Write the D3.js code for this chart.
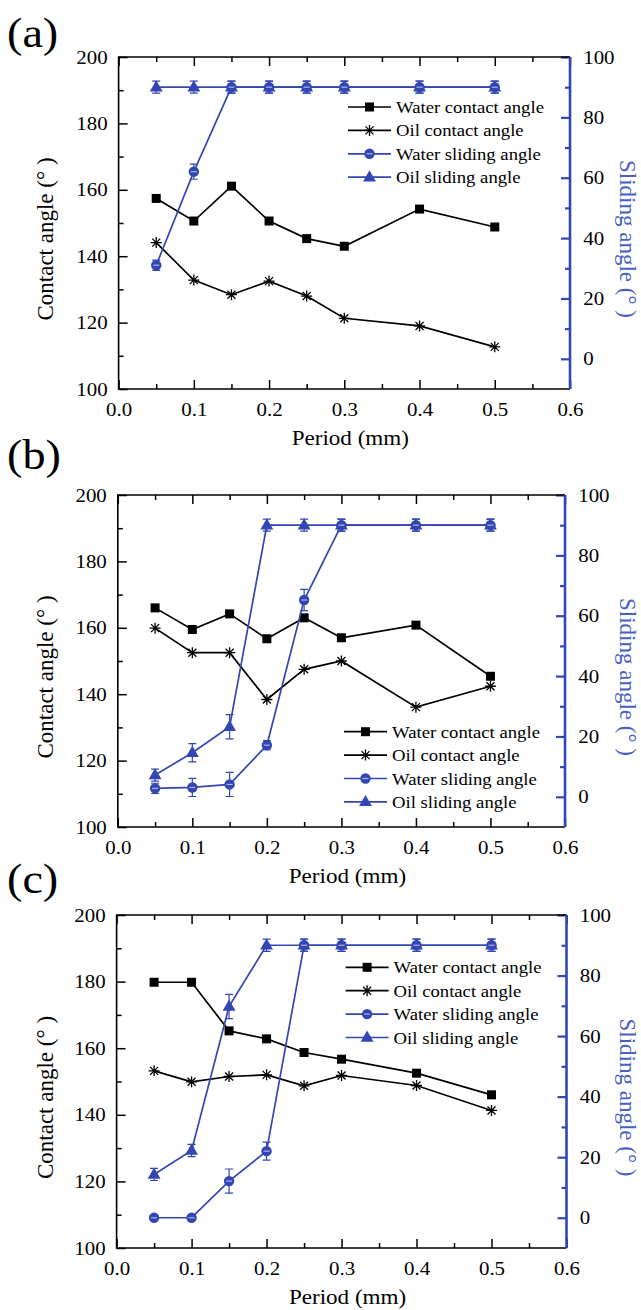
<!DOCTYPE html>
<html>
<head>
<meta charset="utf-8">
<script src="https://cdn.jsdelivr.net/npm/d3@7"></script>
<style>
body { margin: 0; background: #fff; }
</style>
</head>
<body>
<svg id="fig" width="641" height="1310"></svg>
<script>
// x values shared by all three panels
var periods = [0.05, 0.1, 0.15, 0.2, 0.25, 0.3, 0.4, 0.5];

// panel (a)
var waterCA_a = [157.4, 150.6, 161.1, 150.6, 145.3, 143.0, 154.2, 148.8];
var oilCA_a   = [144.1, 132.8, 128.4, 132.5, 128.0, 121.3, 119.0, 112.7];
var waterSA_a = [31, 62, 90, 90, 90, 90, 90, 90];
var oilSA_a   = [90, 90, 90, 90, 90, 90, 90, 90];
var waterErr_a = [1.7, 2.5, 2, 2, 2, 2, 2, 2];
var oilErr_a   = [2, 2, 2, 2, 2, 2, 2, 2];

// panel (b)
var waterCA_b = [166.0, 159.5, 164.2, 156.7, 163.0, 157.0, 160.8, 145.4];
var oilCA_b   = [159.9, 152.5, 152.5, 138.4, 147.5, 150.0, 136.1, 142.4];
var waterSA_b = [2.8, 3.1, 4.1, 17.1, 65.2, 90, 90, 90];
var oilSA_b   = [7.2, 14.6, 23.2, 90, 90, 90, 90, 90];
var waterErr_b = [1.7, 3, 4, 1.5, 3.5, 2, 2, 2];
var oilErr_b   = [2, 3, 4, 2, 2, 2, 2, 2];

// panel (c)
var waterCA_c = [179.8, 179.8, 165.2, 162.8, 158.7, 156.7, 152.5, 146.0];
var oilCA_c   = [153.2, 149.9, 151.5, 152.0, 148.7, 151.8, 148.8, 141.3];
var waterSA_c = [0, 0, 12.1, 22, 90, 90, 90, 90];
var oilSA_c   = [14.3, 22.2, 69.8, 90, 90, 90, 90, 90];
var waterErr_c = [0.5, 0.5, 4, 3, 2, 2, 2, 2];
var oilErr_c   = [2, 2, 4, 2, 2, 2, 2, 2];

// ticks and texts
var xMajor = [0, 0.1, 0.2, 0.3, 0.4, 0.5, 0.6];
var xMinor = [0.05, 0.15, 0.25, 0.35, 0.45, 0.55];
var leftMajor = [100, 120, 140, 160, 180, 200];
var leftMinor = [110, 130, 150, 170, 190];
var rightMajor = [0, 20, 40, 60, 80, 100];
var rightMinor = [10, 30, 50, 70, 90];
var legendLabels = ["Water contact angle", "Oil contact angle", "Water sliding angle", "Oil sliding angle"];
var panelLabels = ["(a)", "(b)", "(c)"];

var BLUE = "#3446b2", BLUE_TXT = "#4b5fc2";
var SX = 1.1;   // picture is a bit stretched sideways
var SERIF = "'Liberation Serif', 'Times New Roman', serif";

// layout of each panel (pixels)
var boxes = [
  {L: 118.6, R: 570, T: 57, B: 389, labY: 47, legX: 348, legY: 107},
  {L: 117.8, R: 565, T: 495, B: 827, labY: 469, legX: 344, legY: 731.7},
  {L: 116.6, R: 566.5, T: 915, B: 1248, labY: 893, legX: 345.6, legY: 967.3}
];

var panels = [
  {label: panelLabels[0], wca: waterCA_a, oca: oilCA_a, wsa: waterSA_a, osa: oilSA_a, we: waterErr_a, oe: oilErr_a},
  {label: panelLabels[1], wca: waterCA_b, oca: oilCA_b, wsa: waterSA_b, osa: oilSA_b, we: waterErr_b, oe: oilErr_b},
  {label: panelLabels[2], wca: waterCA_c, oca: oilCA_c, wsa: waterSA_c, osa: oilSA_c, we: waterErr_c, oe: oilErr_c}
];

var svg = d3.select("#fig");

function stext(g, x, y, str, size) {
  return g.append("text")
    .attr("transform", "translate(" + x + "," + y + ") scale(" + SX + ",1)")
    .style("font-family", SERIF)
    .attr("font-size", size)
    .text(str);
}

function marker(g, type, x, y) {
  if (type == "square") {
    g.append("rect").attr("x", x - 4.5).attr("y", y - 4.5)
      .attr("width", 9).attr("height", 9).attr("fill", "#000");
  } else if (type == "star") {
    g.append("path")
      .attr("d", "M" + (x - 5.5) + "," + y + "h11M" + x + "," + (y - 5.5) + "v11" +
                 "M" + (x - 4) + "," + (y - 4) + "l8,8M" + (x - 4) + "," + (y + 4) + "l8,-8")
      .attr("stroke", "#000").attr("stroke-width", 1.3).attr("fill", "none");
  } else if (type == "circle") {
    g.append("circle").attr("cx", x).attr("cy", y).attr("r", 5.2).attr("fill", BLUE);
    g.append("line").attr("x1", x - 3).attr("x2", x + 3).attr("y1", y).attr("y2", y)
      .attr("stroke", "#aab3e6").attr("stroke-width", 1.2);
  } else {
    g.append("path")
      .attr("transform", "translate(" + x + "," + (y + 0.5) + ")")
      .attr("d", d3.symbol().type(d3.symbolTriangle).size(72)())
      .attr("fill", BLUE);
  }
}

function series(g, x, y, vals, color, type, errs) {
  var pts = periods.map(function(p, i) { return [x(p), y(vals[i])]; });
  g.append("path")
    .attr("d", d3.line()(pts))
    .attr("fill", "none").attr("stroke", color).attr("stroke-width", 1.7);
  if (errs) {
    periods.forEach(function(p, i) {
      var cx = x(p), y1 = y(vals[i] - errs[i]), y2 = y(vals[i] + errs[i]);
      g.append("path")
        .attr("d", "M" + cx + "," + y1 + "V" + y2 + "M" + (cx - 4) + "," + y1 + "h8M" + (cx - 4) + "," + y2 + "h8")
        .attr("stroke", color).attr("stroke-width", 1.2).attr("fill", "none");
    });
  }
  pts.forEach(function(d) { marker(g, type, d[0], d[1]); });
}

panels.forEach(function(p, k) {
  var b = boxes[k];
  var g = svg.append("g");

  var x = d3.scaleLinear().domain([0, 0.6]).range([b.L, b.R]);
  var yl = d3.scaleLinear().domain([100, 200]).range([b.B, b.T]);
  var yr = d3.scaleLinear().domain([-10, 100]).range([b.B, b.T]);

  // axes, ticks pointing inward
  var ax = [
    [d3.axisBottom(x).tickValues(xMajor).tickSize(-9).tickPadding(14).tickFormat(d3.format(".1f")), 0, b.B],
    [d3.axisBottom(x).tickValues(xMinor).tickSize(-5).tickFormat(""), 0, b.B],
    [d3.axisTop(x).tickValues(xMajor).tickSize(-9).tickFormat(""), 0, b.T],
    [d3.axisTop(x).tickValues(xMinor).tickSize(-5).tickFormat(""), 0, b.T],
    [d3.axisLeft(yl).tickValues(leftMajor).tickSize(-9).tickPadding(10), b.L, 0],
    [d3.axisLeft(yl).tickValues(leftMinor).tickSize(-5).tickFormat(""), b.L, 0],
    [d3.axisRight(yr).tickValues(rightMajor).tickSize(-9).tickPadding(12), b.R, 0, true],
    [d3.axisRight(yr).tickValues(rightMinor).tickSize(-5).tickFormat(""), b.R, 0, true]
  ];
  ax.forEach(function(a) {
    var ag = g.append("g")
      .attr("transform", "translate(" + a[1] + "," + a[2] + ")")
      .call(a[0]);
    ag.select(".domain").remove();
    ag.selectAll(".tick line")
      .attr("stroke", a[3] ? BLUE : "#000")
      .attr("stroke-width", a[3] ? 2.2 : 1.5);
    ag.selectAll(".tick text")
      .style("font-family", SERIF)
      .style("font-size", "19px").attr("fill", "#000")
      .attr("transform", "scale(" + SX + ",1)");
  });

  // frame
  g.append("path")
    .attr("d", "M" + b.R + "," + b.T + "H" + b.L + "V" + b.B + "H" + b.R)
    .attr("fill", "none").attr("stroke", "#000").attr("stroke-width", 1.6);
  g.append("line")
    .attr("x1", b.R).attr("x2", b.R).attr("y1", b.T).attr("y2", b.B)
    .attr("stroke", BLUE).attr("stroke-width", 2.6);

  // data
  series(g, x, yl, p.wca, "#000", "square");
  series(g, x, yl, p.oca, "#000", "star");
  series(g, x, yr, p.osa, BLUE, "triangle", p.oe);
  series(g, x, yr, p.wsa, BLUE, "circle", p.we);

  // legend
  var types = ["square", "star", "circle", "triangle"];
  var colors = ["#000", "#000", BLUE, BLUE];
  legendLabels.forEach(function(lab, i) {
    var ly = b.legY + i * 23.4;
    g.append("line")
      .attr("x1", b.legX).attr("x2", b.legX + 43).attr("y1", ly).attr("y2", ly)
      .attr("stroke", colors[i]).attr("stroke-width", 1.7);
    marker(g, types[i], b.legX + 21.5, ly);
    stext(g, b.legX + 48, ly + 6, lab, 17);
  });

  // titles
  var midY = (b.T + b.B) / 2 + 16;
  stext(g, (b.L + b.R) / 2 + 6, b.B + 56, "Period (mm)", 21).attr("text-anchor", "middle");
  g.append("text")
    .attr("transform", "translate(45," + midY + ") rotate(-90)")
    .attr("text-anchor", "middle").attr("dominant-baseline", "central")
    .style("font-family", SERIF).attr("font-size", 23)
    .text("Contact angle (° )");
  g.append("text")
    .attr("transform", "translate(627," + midY + ") rotate(90)")
    .attr("text-anchor", "middle").attr("dominant-baseline", "central")
    .style("font-family", SERIF).attr("font-size", 23).attr("fill", BLUE_TXT)
    .text("Sliding angle (° )");
  stext(g, 7, b.labY, p.label, 42);
});
</script>
</body>
</html>
